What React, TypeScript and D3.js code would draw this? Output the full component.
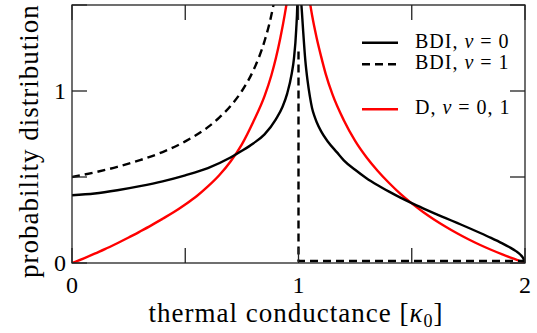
import React from "react";
import * as d3 from "d3";

// ---- data ----
const xTicks = [0, 0.5, 1, 1.5, 2];
const xTickLabels = ["0", "", "1", "", "2"];
const yTicks = [0, 0.5, 1, 1.5];
const yTickLabels = ["0", "", "1", ""];

// BDI, nu = 0 (solid black)
const bdi0G = [0, 0.1, 0.2, 0.3, 0.4, 0.5, 0.6, 0.7, 0.75, 0.8, 0.85, 0.9, 0.93, 0.95, 0.97, 0.98, 0.99, 0.995, 0.999,
  1.001, 1.005, 1.01, 1.015, 1.02, 1.03, 1.04, 1.05, 1.06, 1.07, 1.08, 1.1, 1.13, 1.17, 1.2, 1.25, 1.3, 1.35, 1.4, 1.45, 1.5,
  1.55, 1.6, 1.65, 1.7, 1.75, 1.8, 1.85, 1.9, 1.93, 1.96, 1.98, 1.99, 2.0];
const bdi0P = [0.394, 0.404, 0.423, 0.447, 0.475, 0.51, 0.552, 0.613, 0.652, 0.695, 0.748, 0.835, 0.91, 0.985, 1.1, 1.19, 1.36, 1.52, 1.9,
  1.95, 1.72, 1.56, 1.46, 1.36, 1.18, 1.06, 0.97, 0.9, 0.855, 0.82, 0.765, 0.705, 0.643, 0.597, 0.542, 0.493, 0.452, 0.415, 0.38, 0.348,
  0.318, 0.289, 0.261, 0.233, 0.205, 0.176, 0.146, 0.114, 0.093, 0.069, 0.048, 0.032, 0.005];

// BDI, nu = 1 (dashed black)
const bdi1G = [0, 0.1, 0.2, 0.3, 0.4, 0.5, 0.6, 0.65, 0.7, 0.75, 0.8, 0.85, 0.88, 0.9, 0.95];
const bdi1P = [0.5, 0.527, 0.559, 0.598, 0.645, 0.707, 0.79, 0.845, 0.913, 1.0, 1.118, 1.29, 1.44, 1.58, 2.24];
const bdi1StepG = [1, 1, 2];
const bdi1StepP = [1.23, 0.012, 0.012];

// D, nu = 0,1 (red)
const dG = [0, 0.05, 0.1, 0.15, 0.2, 0.25, 0.3, 0.35, 0.4, 0.45, 0.5, 0.55, 0.6, 0.65, 0.7, 0.75, 0.8, 0.85, 0.88, 0.9, 0.92, 0.94, 0.95, 0.97, 0.99,
  1.01, 1.03, 1.05, 1.06, 1.08, 1.1, 1.12, 1.15, 1.2, 1.25, 1.3, 1.35, 1.4, 1.45, 1.5, 1.55, 1.6, 1.65, 1.7, 1.75, 1.8, 1.85, 1.9, 1.95, 2.0];
const dP = [0, 0.026, 0.054, 0.084, 0.115, 0.148, 0.183, 0.219, 0.257, 0.296, 0.34, 0.388, 0.445, 0.51, 0.59, 0.69, 0.82, 0.97, 1.09, 1.19, 1.31, 1.45, 1.53, 1.75, 2.2,
  2.2, 1.75, 1.52, 1.44, 1.31, 1.2, 1.1, 0.98, 0.83, 0.71, 0.615, 0.535, 0.465, 0.402, 0.347, 0.297, 0.252, 0.211, 0.173, 0.138, 0.106, 0.077, 0.05, 0.025, 0];

const legendLabels = [
  { pre: "BDI, ", post: " = 0" },
  { pre: "BDI, ", post: " = 1" },
  { pre: "D, ", post: " = 0, 1" },
];

const W = 537;
const H = 333;
const L = 72, R = 525, T = 5, B = 263;
const FONT = "Liberation Serif, DejaVu Serif, Times New Roman, serif";

export default function App() {
  const x = d3.scaleLinear().domain([0, 2]).range([L, R]);
  const y = d3.scaleLinear().domain([0, 1.5]).range([B, T]);

  const mk = (gs: number[], ps: number[], curve: any) =>
    d3.line<number>().x((_, i) => x(gs[i])).y((_, i) => y(ps[i])).curve(curve)(gs) || "";

  const pSolid = mk(bdi0G, bdi0P, d3.curveMonotoneX);
  const pDash = mk(bdi1G, bdi1P, d3.curveMonotoneX);
  const pStep = mk(bdi1StepG, bdi1StepP, d3.curveLinear);
  const pRed = mk(dG, dP, d3.curveMonotoneX);

  const tickLen = 15;
  const axisColor = "#222";

  const legendRows = [
    { y: 42.7, stroke: "#000", dash: undefined as string | undefined },
    { y: 64.3, stroke: "#000", dash: "8,5" },
    { y: 109.3, stroke: "#ff0000", dash: undefined },
  ];

  const txt = { fontFamily: FONT };

  return (
    <svg width={W} height={H} style={{ position: "absolute", left: 0, top: 0, background: "#fff", fontFamily: FONT }}>
      <defs>
        <clipPath id="plotClip">
          <rect x={L} y={T} width={R - L} height={B - T} />
        </clipPath>
      </defs>
      <rect x={0} y={0} width={W} height={H} fill="#fff" />

      {/* curves */}
      <g clipPath="url(#plotClip)" fill="none" strokeLinejoin="round">
        <path d={pRed} stroke="#ff0000" strokeWidth={2.4} />
        <path d={pDash} stroke="#000" strokeWidth={2.4} strokeDasharray="8,5" />
        <path d={pStep} stroke="#000" strokeWidth={2.4} strokeDasharray="8,5" />
        <path d={pSolid} stroke="#000" strokeWidth={2.4} />
      </g>

      {/* frame */}
      <rect x={L} y={T} width={R - L} height={B - T} fill="none" stroke={axisColor} strokeWidth={1.3} />

      {/* ticks */}
      <g stroke={axisColor} strokeWidth={1.3}>
        {xTicks.map((t, i) => (
          <g key={"xt" + i}>
            <line x1={x(t)} x2={x(t)} y1={B} y2={B - tickLen} />
            <line x1={x(t)} x2={x(t)} y1={T} y2={T + tickLen} />
          </g>
        ))}
        {yTicks.map((t, i) => (
          <g key={"yt" + i}>
            <line x1={L} x2={L + tickLen} y1={y(t)} y2={y(t)} />
            <line x1={R} x2={R - tickLen} y1={y(t)} y2={y(t)} />
          </g>
        ))}
      </g>

      {/* tick labels */}
      <g fill="#000">
        {xTicks.map((t, i) =>
          xTickLabels[i] ? (
            <text key={"xl" + i} x={x(t)} y={293} textAnchor="middle" style={{ ...txt, fontSize: 24 }}>{xTickLabels[i]}</text>
          ) : null
        )}
        {yTicks.map((t, i) =>
          yTickLabels[i] ? (
            <text key={"yl" + i} x={66} y={y(t) + 8} textAnchor="end" style={{ ...txt, fontSize: 24 }}>{yTickLabels[i]}</text>
          ) : null
        )}
      </g>

      {/* axis labels */}
      <text x={296} y={322} textAnchor="middle" fill="#000" style={{ ...txt, fontSize: 27, letterSpacing: 1 }}>
        thermal conductance [<tspan fontStyle="italic">κ</tspan>
        <tspan fontSize={18} dy={5}>0</tspan>
        <tspan dy={-5}>]</tspan>
      </text>
      <text transform="translate(38,141) rotate(-90)" textAnchor="middle" fill="#000" style={{ ...txt, fontSize: 27, letterSpacing: 1 }}>
        probability distribution
      </text>

      {/* legend */}
      {legendRows.map((r, i) => (
        <g key={"lg" + i}>
          <line x1={362} x2={398} y1={r.y} y2={r.y} stroke={r.stroke} strokeWidth={2.4} strokeDasharray={r.dash} />
          <text x={415} y={r.y + 5} fill="#000" style={{ ...txt, fontSize: 20, letterSpacing: 1, whiteSpace: "pre" }}>
            {legendLabels[i].pre}
            <tspan fontStyle="italic">ν</tspan>
            {legendLabels[i].post}
          </text>
        </g>
      ))}
    </svg>
  );
}
